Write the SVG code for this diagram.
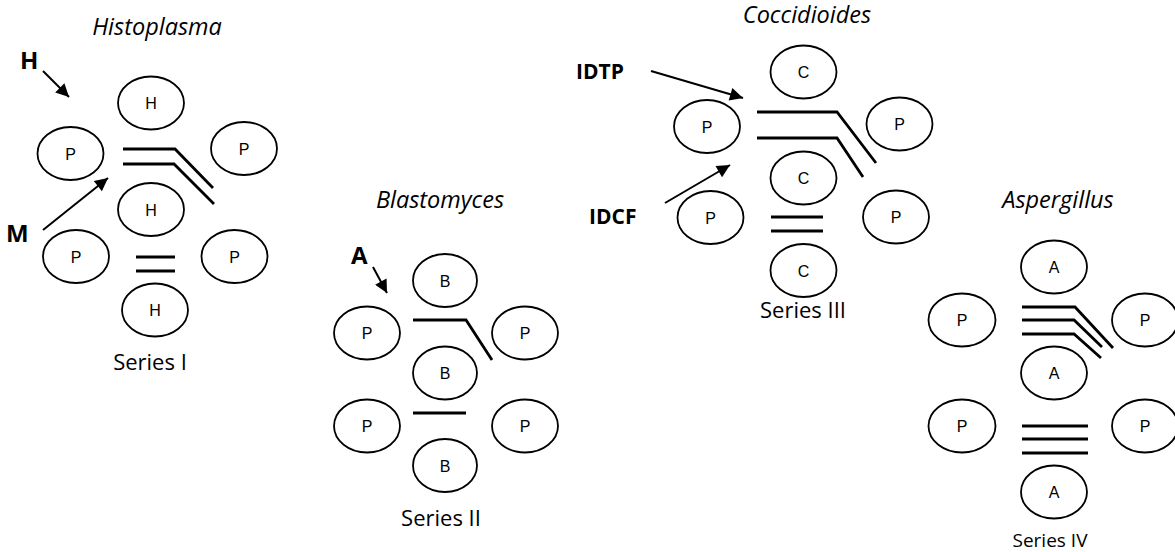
<svg xmlns="http://www.w3.org/2000/svg" width="1175" height="552" viewBox="0 0 1175 552">
<defs>
<style>
.n ellipse{fill:#fff;stroke:#000;stroke-width:1.8}
.n text{font-family:"Liberation Sans",Arial,sans-serif;font-size:16px;text-anchor:middle;fill:#000}
.bar{fill:none;stroke:#000;stroke-width:2.8;stroke-linejoin:miter}
.arr{fill:none;stroke:#000;stroke-width:2}
.title{font-family:"Open Sans",sans-serif;font-style:italic;font-size:23.5px;text-anchor:middle;fill:#000}
.series{font-family:"Open Sans",sans-serif;font-size:22px;text-anchor:middle;fill:#000}
.lbl{font-family:"Open Sans",sans-serif;font-weight:bold;font-size:24px;fill:#000}
.lbl2{font-family:"Open Sans",sans-serif;font-weight:bold;font-size:21px;fill:#000}
</style>
<marker id="ah" viewBox="0 0 10 10" refX="10" refY="5" markerWidth="16" markerHeight="13" markerUnits="userSpaceOnUse" orient="auto"><path d="M0,0 L10,5 L0,10 z" fill="#000"/></marker>
</defs>
<rect width="1175" height="552" fill="#fff"/>

<!-- Series I -->
<text class="title" x="157" y="35">Histoplasma</text>
<text class="series" x="150" y="370">Series I</text>
<text class="lbl" x="20" y="69">H</text>
<text class="lbl" x="6" y="242">M</text>
<g id="s1-h1" class="n"><ellipse cx="151" cy="103" rx="33" ry="26.5"/><text x="151" y="109">H</text></g>
<g id="s1-p1" class="n"><ellipse cx="70.5" cy="153.5" rx="33" ry="26.5"/><text x="70.5" y="159.5">P</text></g>
<g id="s1-p2" class="n"><ellipse cx="244" cy="148.5" rx="33" ry="26.5"/><text x="244" y="154.5">P</text></g>
<g id="s1-h2" class="n"><ellipse cx="151" cy="209.5" rx="33" ry="26.5"/><text x="151" y="215.5">H</text></g>
<g id="s1-p3" class="n"><ellipse cx="76" cy="256.5" rx="33" ry="26.5"/><text x="76" y="262.5">P</text></g>
<g id="s1-p4" class="n"><ellipse cx="234.5" cy="256.5" rx="33" ry="26.5"/><text x="234.5" y="262.5">P</text></g>
<g id="s1-h3" class="n"><ellipse cx="155" cy="310" rx="33" ry="26.5"/><text x="155" y="316">H</text></g>

<!-- Series II -->
<text class="title" x="440" y="208">Blastomyces</text>
<text class="series" x="441" y="526">Series II</text>
<text class="lbl" x="351" y="264">A</text>
<g id="s2-b1" class="n"><ellipse cx="445" cy="280.5" rx="32" ry="26.5"/><text x="445" y="286.5">B</text></g>
<g id="s2-p1" class="n"><ellipse cx="367" cy="333" rx="33" ry="26.5"/><text x="367" y="339">P</text></g>
<g id="s2-p2" class="n"><ellipse cx="525" cy="333" rx="33" ry="26.5"/><text x="525" y="339">P</text></g>
<g id="s2-b2" class="n"><ellipse cx="445" cy="373" rx="32" ry="26.5"/><text x="445" y="379">B</text></g>
<g id="s2-p3" class="n"><ellipse cx="367" cy="426" rx="33" ry="26.5"/><text x="367" y="432">P</text></g>
<g id="s2-p4" class="n"><ellipse cx="525" cy="426" rx="33" ry="26.5"/><text x="525" y="432">P</text></g>
<g id="s2-b3" class="n"><ellipse cx="445" cy="465.5" rx="32" ry="26.5"/><text x="445" y="471.5">B</text></g>

<!-- Series III -->
<text class="title" x="807" y="23">Coccidioides</text>
<text class="series" x="803" y="318">Series III</text>
<text class="lbl2" x="576" y="79">IDTP</text>
<text class="lbl2" x="589" y="224">IDCF</text>
<g id="s3-c1" class="n"><ellipse cx="803.5" cy="72" rx="33" ry="26.5"/><text x="803.5" y="78">C</text></g>
<g id="s3-p1" class="n"><ellipse cx="707" cy="126.5" rx="33" ry="26.5"/><text x="707" y="132.5">P</text></g>
<g id="s3-p2" class="n"><ellipse cx="899.5" cy="124" rx="33" ry="26.5"/><text x="899.5" y="130">P</text></g>
<g id="s3-c2" class="n"><ellipse cx="803.5" cy="178" rx="33" ry="26.5"/><text x="803.5" y="184">C</text></g>
<g id="s3-p3" class="n"><ellipse cx="710.5" cy="217.5" rx="33" ry="26.5"/><text x="710.5" y="223.5">P</text></g>
<g id="s3-p4" class="n"><ellipse cx="896" cy="217" rx="33" ry="26.5"/><text x="896" y="223">P</text></g>
<g id="s3-c3" class="n"><ellipse cx="803.5" cy="270.5" rx="33" ry="26.5"/><text x="803.5" y="276.5">C</text></g>

<!-- Series IV -->
<text class="title" x="1058" y="208">Aspergillus</text>
<text class="series" x="1050" y="547" style="font-size:19px">Series IV</text>
<g id="s4-a1" class="n"><ellipse cx="1054" cy="267" rx="33" ry="26.5"/><text x="1054" y="273">A</text></g>
<g id="s4-p1" class="n"><ellipse cx="962" cy="320" rx="33.5" ry="26.5"/><text x="962" y="326">P</text></g>
<g id="s4-p2" class="n"><ellipse cx="1145" cy="320" rx="33" ry="26.5"/><text x="1145" y="326">P</text></g>
<g id="s4-a2" class="n"><ellipse cx="1054" cy="373" rx="33" ry="26.5"/><text x="1054" y="379">A</text></g>
<g id="s4-p3" class="n"><ellipse cx="962" cy="426" rx="33.5" ry="26.5"/><text x="962" y="432">P</text></g>
<g id="s4-p4" class="n"><ellipse cx="1145" cy="426" rx="33" ry="26.5"/><text x="1145" y="432">P</text></g>
<g id="s4-a3" class="n"><ellipse cx="1054" cy="492" rx="33" ry="26.5"/><text x="1054" y="498">A</text></g>

<!-- connectors -->
<g id="connectors">
<polyline class="bar" points="123,149 175,149 213,188"/>
<polyline class="bar" points="123,164 174,164 214,204"/>
<line class="bar" x1="136" y1="257" x2="175" y2="257"/>
<line class="bar" x1="136" y1="271" x2="175" y2="271"/>
<polyline class="bar" points="413,320 466,320 492,360"/>
<line class="bar" x1="413" y1="413" x2="466" y2="413"/>
<polyline class="bar" points="757,112 837,112 876,163"/>
<polyline class="bar" points="757,138 837,138 863,177"/>
<line class="bar" x1="771" y1="217" x2="823" y2="217"/>
<line class="bar" x1="771" y1="231" x2="823" y2="231"/>
<polyline class="bar" points="1022,307 1075,307 1113,348"/>
<polyline class="bar" points="1022,320 1074,320 1102,347"/>
<polyline class="bar" points="1022,334 1074,334 1101,358"/>
<line class="bar" x1="1022" y1="426" x2="1088" y2="426"/>
<line class="bar" x1="1022" y1="439" x2="1088" y2="439"/>
<line class="bar" x1="1022" y1="453" x2="1088" y2="453"/>
<line class="arr" x1="43" y1="71" x2="69" y2="97" marker-end="url(#ah)"/>
<line class="arr" x1="43" y1="230" x2="108" y2="178" marker-end="url(#ah)"/>
<line class="arr" x1="373" y1="267" x2="387" y2="293" marker-end="url(#ah)"/>
<line class="arr" x1="651" y1="71" x2="743" y2="98" marker-end="url(#ah)"/>
<line class="arr" x1="665" y1="203" x2="730" y2="165" marker-end="url(#ah)"/>
</g>
</svg>
